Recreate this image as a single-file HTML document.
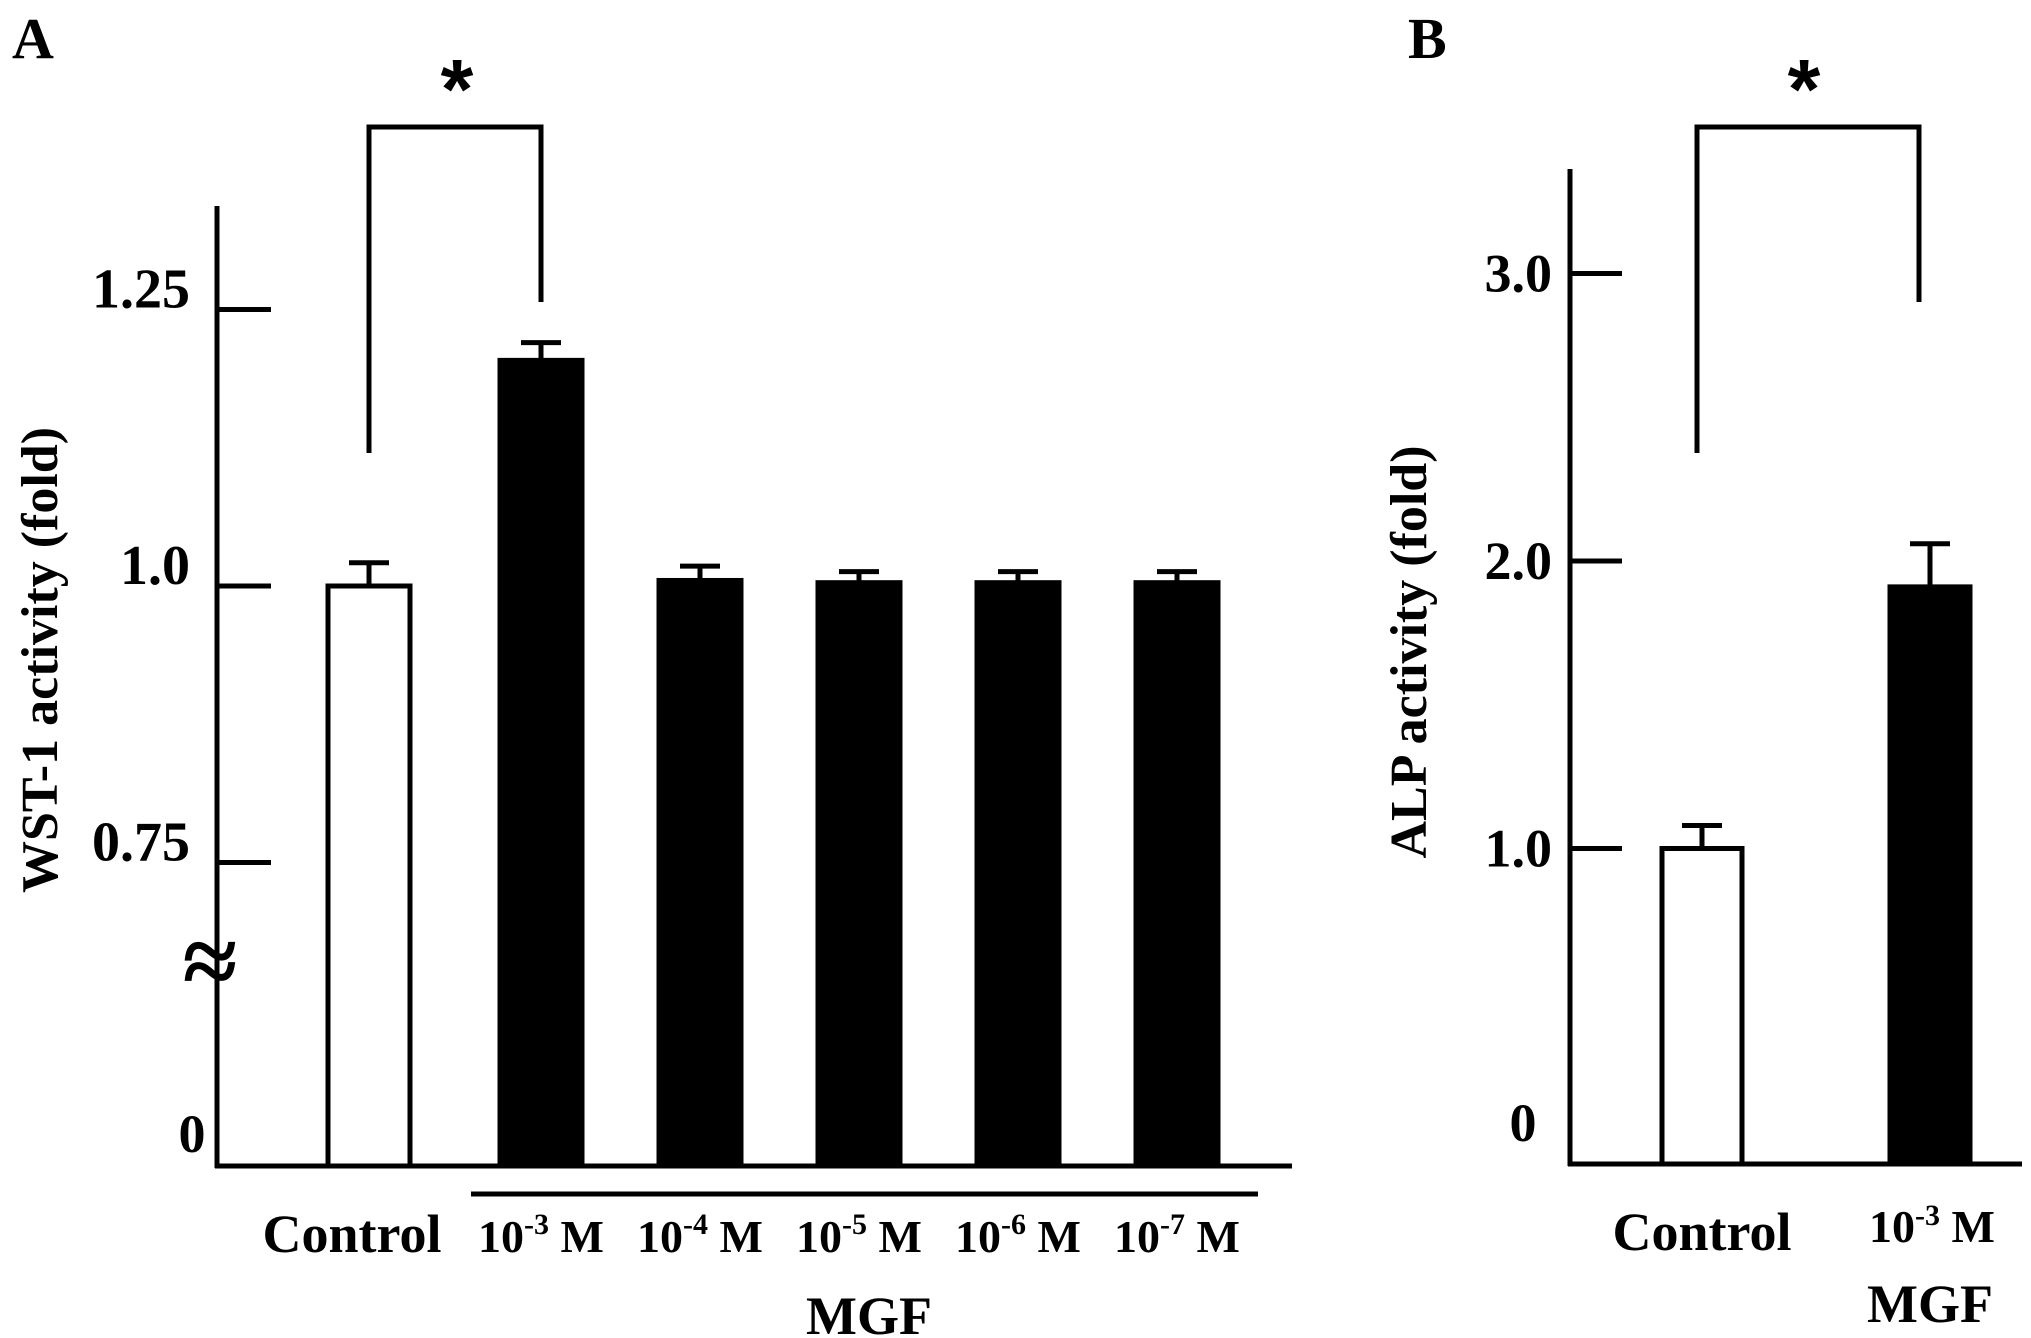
<!DOCTYPE html>
<html><head><meta charset="utf-8">
<style>
html,body{margin:0;padding:0;background:#fff;}
svg{display:block;font-family:"Liberation Serif",serif;font-weight:bold;}
</style></head>
<body>
<svg id="fig" width="2031" height="1338" viewBox="0 0 2031 1338" xmlns="http://www.w3.org/2000/svg">
<text x="12" y="58" font-size="58">A</text>
<text x="1408" y="58" font-size="58">B</text>
<g id="ga"></g>
<g id="gb"></g>
</svg>
<script>
// Panel A data
const catsA = ["Control","10-3","10-4","10-5","10-6","10-7"];
const valsA = [1.0, 1.204, 1.005, 1.003, 1.003, 1.003];
const errA = [0.021, 0.016, 0.013, 0.010, 0.010, 0.010];
const ticksA = [1.25, 1.0, 0.75];
const tickLabelsA = ["1.25","1.0","0.75"];
// Panel B data
const catsB = ["Control","10-3"];
const valsB = [1.0, 1.91];
const errB = [0.08, 0.15];
const ticksB = [3.0, 2.0, 1.0];
const tickLabelsB = ["3.0","2.0","1.0"];

const NS="http://www.w3.org/2000/svg";
function mk(parent, tag, attrs){const e=document.createElementNS(NS,tag);for(const k in attrs)e.setAttribute(k,attrs[k]);parent.appendChild(e);return e;}
const ga=document.getElementById('ga'), gb=document.getElementById('gb');
const LW=5;

// ---- Panel A ----
const yA=v=>586-(v-1)*1106;
const baseA=1166;
const xA=i=> i===0?369:541+(i-1)*159;
const bwA=82;
let e;
e=mk(ga,'line',{x1:217,y1:206,x2:217,y2:baseA+2,stroke:'#000','stroke-width':LW});

e=mk(ga,'line',{x1:215,y1:baseA,x2:1292,y2:baseA,stroke:'#000','stroke-width':LW});

ticksA.forEach((t,i)=>{
  let l=mk(ga,'line',{x1:217,y1:yA(t),x2:271,y2:yA(t),stroke:'#000','stroke-width':LW});
  
  let tx=mk(ga,'text',{x:190,y:yA(t)-2,'font-size':56,'text-anchor':'end'});tx.textContent=tickLabelsA[i];
  
});
e=mk(ga,'text',{x:192,y:1152,'font-size':54,'text-anchor':'middle'});e.textContent='0';

e=mk(ga,'text',{x:210,y:995,'font-size':100,'text-anchor':'middle'});e.textContent='≈';

e=mk(ga,'text',{x:0,y:0,'font-size':52,'text-anchor':'middle',transform:'translate(57,660) rotate(-90)'});e.textContent='WST-1 activity (fold)';

catsA.forEach((c,i)=>{
  const cx=xA(i), top=yA(valsA[i]), et=yA(valsA[i]+errA[i]);
  let w=mk(ga,'line',{x1:cx,y1:et,x2:cx,y2:top,stroke:'#000','stroke-width':LW});
  
  let cap=mk(ga,'line',{x1:cx-20,y1:et,x2:cx+20,y2:et,stroke:'#000','stroke-width':LW});
  
  let r=mk(ga,'rect',{x:cx-bwA/2,y:top,width:bwA,height:baseA-top,fill:i===0?'#fff':'#000',stroke:'#000','stroke-width':LW});
  
  let t=mk(ga,'text',{x:i===0?352:cx,y:1252,'font-size':i===0?54:46,'text-anchor':'middle'});
  if(i===0){t.textContent='Control';}
  else{t.textContent='10';const s=mk(t,'tspan',{'font-size':30,dy:-18});s.textContent='-'+c.split('-')[1];const m=mk(t,'tspan',{dy:18});m.textContent=' M';}
  
});
e=mk(ga,'line',{x1:471,y1:1194,x2:1258,y2:1194,stroke:'#000','stroke-width':LW});

e=mk(ga,'text',{x:869,y:1334,'font-size':54,'text-anchor':'middle'});e.textContent='MGF';

e=mk(ga,'polyline',{points:`${xA(0)},453 ${xA(0)},127 ${xA(1)},127 ${xA(1)},302`,fill:'none',stroke:'#000','stroke-width':LW});

e=mk(ga,'text',{x:457,y:118,'font-size':84,'text-anchor':'middle','font-family':'Liberation Sans, sans-serif'});e.textContent='*';


// ---- Panel B ----
const yB=v=>1136-v*287.5;
const baseB=1164;
const xB=i=>1702+i*228;
const bwB=80;
e=mk(gb,'line',{x1:1570,y1:169,x2:1570,y2:baseB+2,stroke:'#000','stroke-width':LW});

e=mk(gb,'line',{x1:1568,y1:baseB,x2:2022,y2:baseB,stroke:'#000','stroke-width':LW});

ticksB.forEach((t,i)=>{
  let l=mk(gb,'line',{x1:1570,y1:yB(t),x2:1622,y2:yB(t),stroke:'#000','stroke-width':LW});
  
  let tx=mk(gb,'text',{x:1552,y:yB(t)+18,'font-size':54,'text-anchor':'end'});tx.textContent=tickLabelsB[i];
  
});
e=mk(gb,'text',{x:1523,y:1141,'font-size':54,'text-anchor':'middle'});e.textContent='0';

e=mk(gb,'text',{x:0,y:0,'font-size':52,'text-anchor':'middle',transform:'translate(1426,652) rotate(-90)'});e.textContent='ALP activity (fold)';

catsB.forEach((c,i)=>{
  const cx=xB(i), top=yB(valsB[i]), et=yB(valsB[i]+errB[i]);
  let w=mk(gb,'line',{x1:cx,y1:et,x2:cx,y2:top,stroke:'#000','stroke-width':LW});
  
  let cap=mk(gb,'line',{x1:cx-20,y1:et,x2:cx+20,y2:et,stroke:'#000','stroke-width':LW});
  
  let r=mk(gb,'rect',{x:cx-bwB/2,y:top,width:bwB,height:baseB-top,fill:i===0?'#fff':'#000',stroke:'#000','stroke-width':LW});
  
  let t=mk(gb,'text',{x:i===0?cx:cx+2,y:i===0?1250:1242,'font-size':i===0?54:46,'text-anchor':'middle'});
  if(i===0){t.textContent='Control';}
  else{t.textContent='10';const s=mk(t,'tspan',{'font-size':30,dy:-17});s.textContent='-3';const m=mk(t,'tspan',{dy:17});m.textContent=' M';}
  
});
e=mk(gb,'text',{x:1930,y:1322,'font-size':54,'text-anchor':'middle'});e.textContent='MGF';

e=mk(gb,'polyline',{points:`1697,453 1697,127 1919,127 1919,302`,fill:'none',stroke:'#000','stroke-width':LW});

e=mk(gb,'text',{x:1804,y:118,'font-size':84,'text-anchor':'middle','font-family':'Liberation Sans, sans-serif'});e.textContent='*';

</script>
</body></html>
